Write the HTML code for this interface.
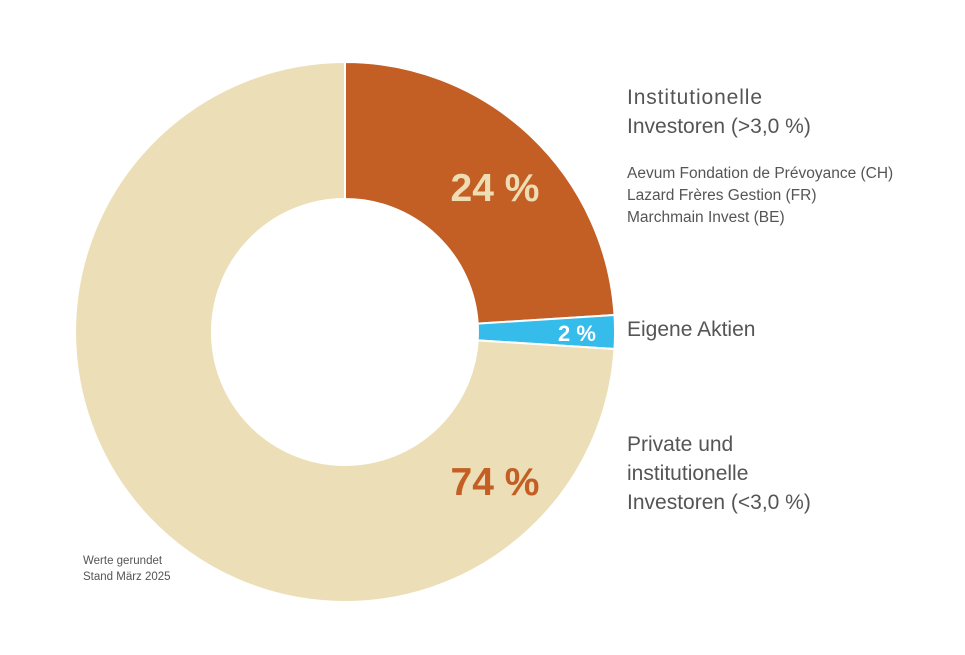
<!DOCTYPE html>
<html><head><meta charset="utf-8"><style>
html,body{margin:0;padding:0;background:#fff;}
svg{display:block;font-family:"Liberation Sans",sans-serif;}
</style></head><body>
<svg width="965" height="655" viewBox="0 0 965 655" xmlns="http://www.w3.org/2000/svg">
<g stroke="#fff" stroke-width="2" stroke-linejoin="round">
<path d="M345,62 A270,270 0 0 1 614.5,315 L477.7,323.6 A133,133 0 0 0 345,199 Z" fill="#C35E25"/>
<path d="M614.5,315 A270,270 0 0 1 614.5,349 L477.7,340.4 A133,133 0 0 0 477.7,323.6 Z" fill="#36BCEB"/>
<path d="M614.5,349 A270,270 0 1 1 345,62 L345,199 A133,133 0 1 0 477.7,340.4 Z" fill="#ECDFB7"/>
</g>
<text x="495" y="201" text-anchor="middle" font-size="39" font-weight="bold" fill="#EEDDB3">24 %</text>
<text x="577" y="341" text-anchor="middle" font-size="22" font-weight="bold" fill="#fff">2 %</text>
<text x="495" y="495" text-anchor="middle" font-size="39" font-weight="bold" fill="#C35E25">74 %</text>
<g fill="#555" font-size="21">
<text x="627" y="104" textLength="135">Institutionelle</text>
<text x="627" y="133">Investoren (&gt;3,0 %)</text>
<text x="627" y="336">Eigene Aktien</text>
<text x="627" y="451">Private und</text>
<text x="627" y="480">institutionelle</text>
<text x="627" y="509">Investoren (&lt;3,0 %)</text>
</g>
<g fill="#555" font-size="15.5">
<text x="627" y="178">Aevum Fondation de Prévoyance (CH)</text>
<text x="627" y="200">Lazard Frères Gestion (FR)</text>
<text x="627" y="222">Marchmain Invest (BE)</text>
</g>
<g fill="#555" font-size="11.5">
<text x="83" y="564">Werte gerundet</text>
<text x="83" y="580">Stand März 2025</text>
</g>
</svg>
</body></html>
